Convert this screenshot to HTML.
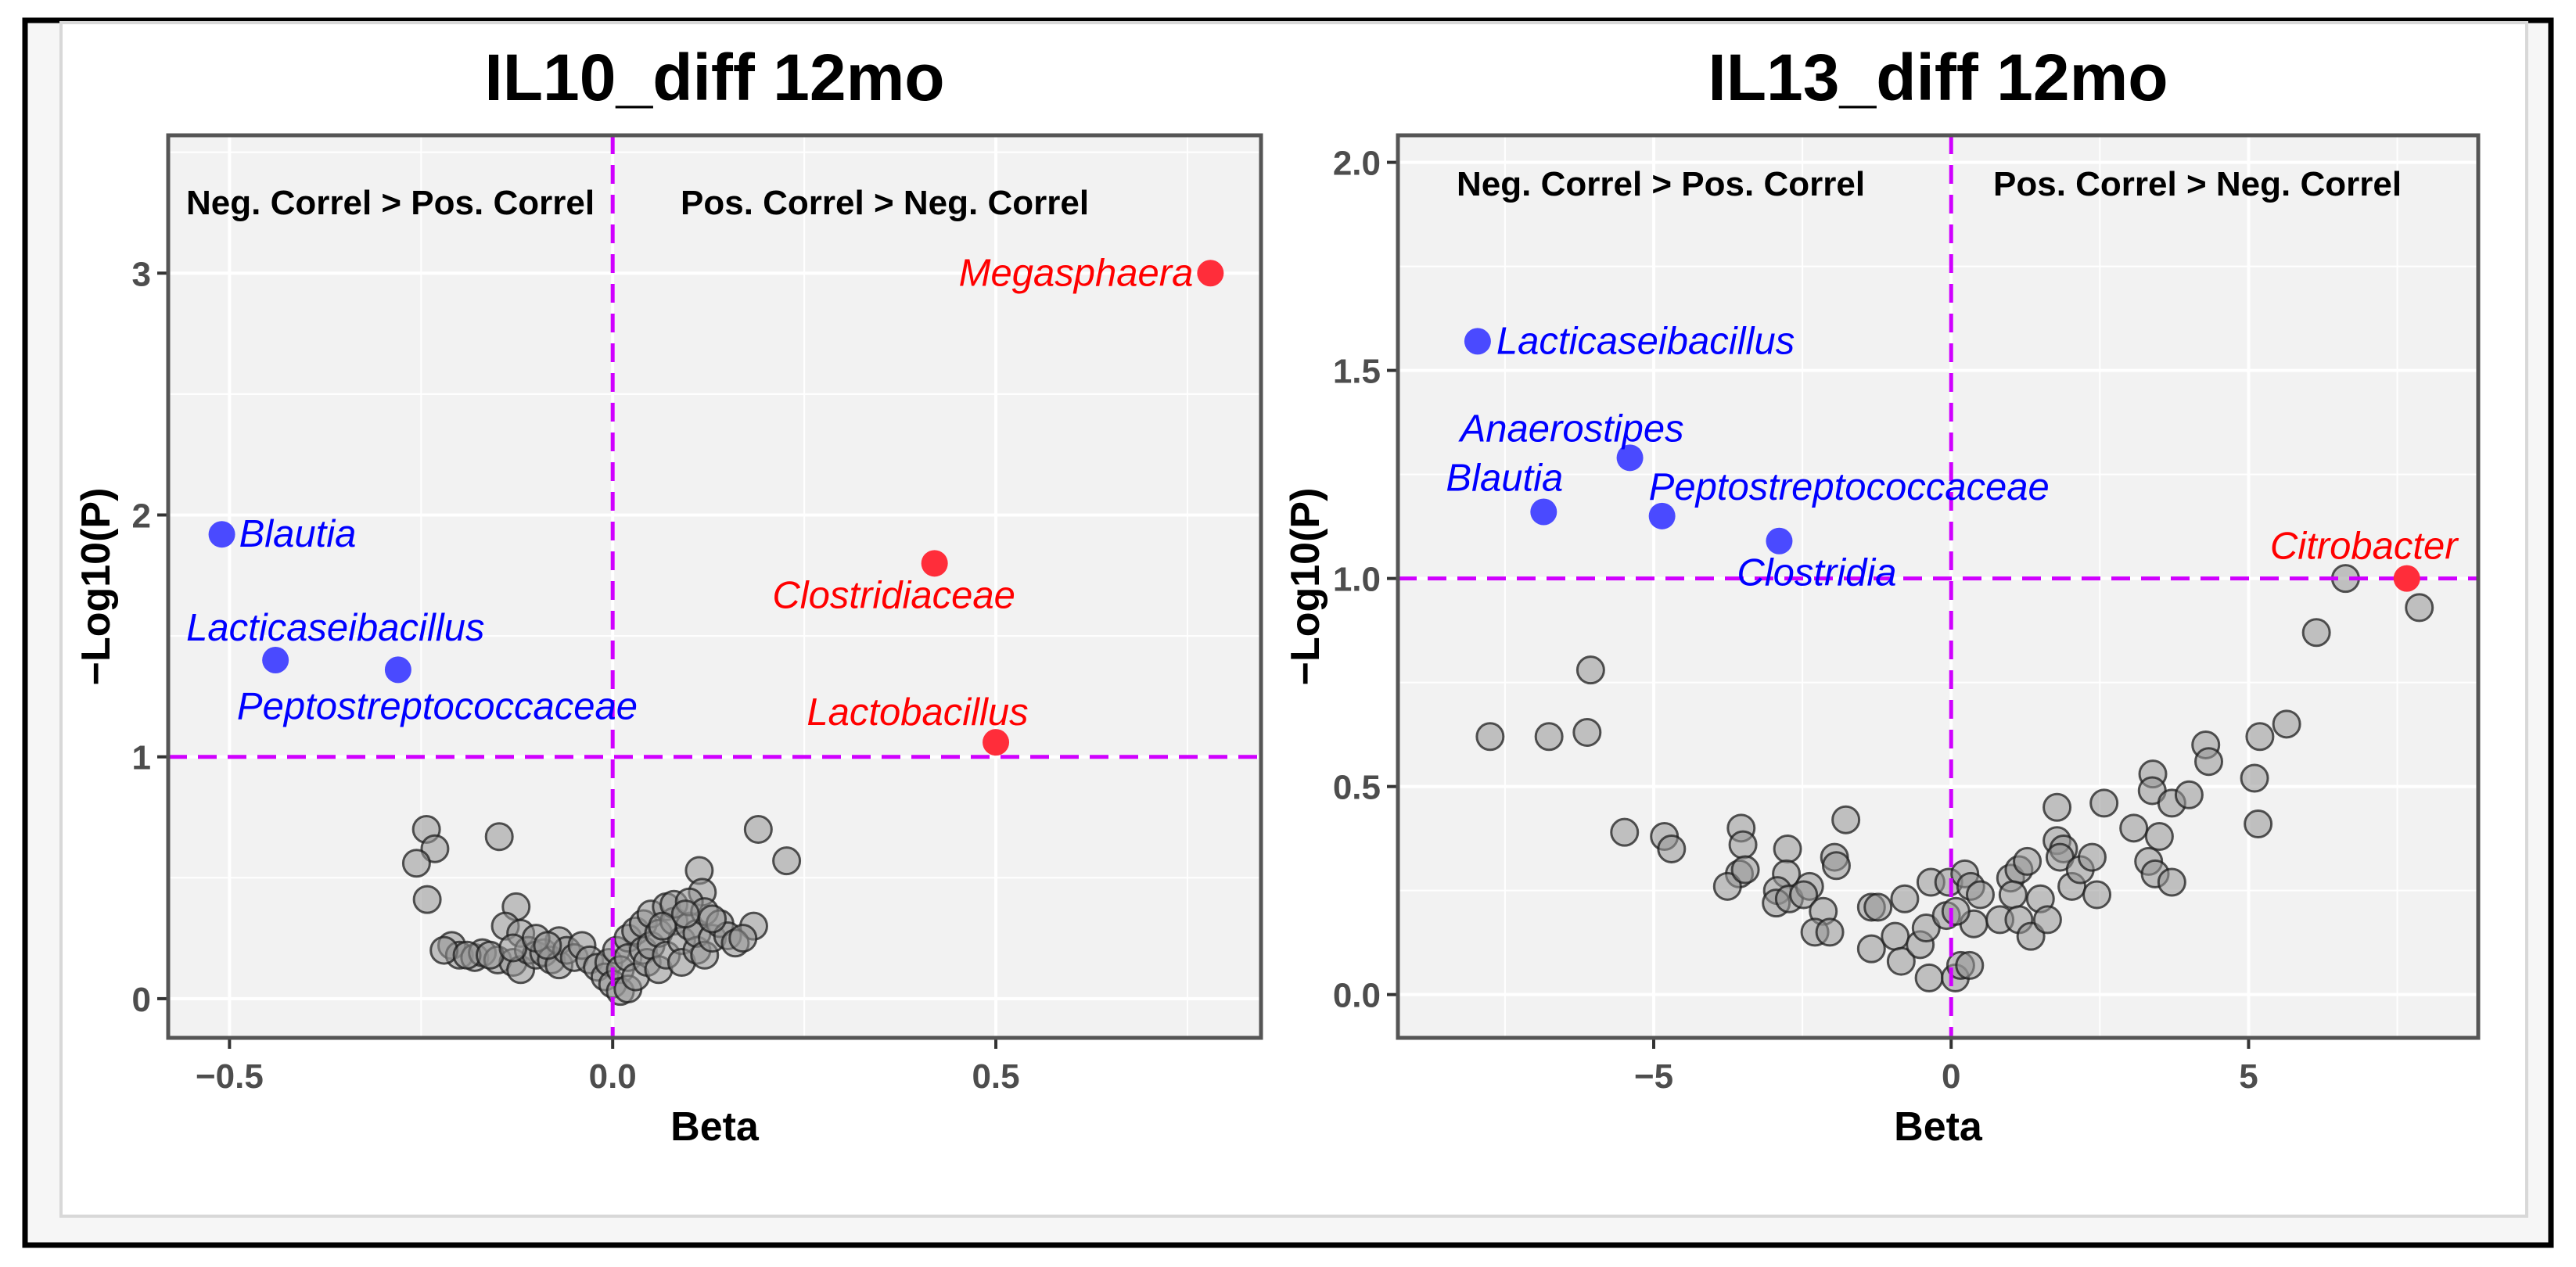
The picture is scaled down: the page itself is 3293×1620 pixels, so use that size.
<!DOCTYPE html>
<html><head><meta charset="utf-8">
<style>
html,body{margin:0;padding:0;background:#fff;}
svg{display:block;font-family:"Liberation Sans",Arial,sans-serif;}
</style></head>
<body>
<svg id="fig" width="3293" height="1620" viewBox="0 0 3293 1620" xmlns="http://www.w3.org/2000/svg">
<rect x="0" y="0" width="3293" height="1620" fill="#fff"/>
<rect x="32" y="26" width="3229" height="1566" fill="#f6f6f6" stroke="#000" stroke-width="7"/>
<rect x="78" y="29" width="3152" height="1526" fill="#fff" stroke="#d8d8d8" stroke-width="4"/>
<g id="p1"></g>
<g id="p2"></g>
</svg>
<script>
// ---- IL10 data ----
const il10GrayBeta = [-0.243,-0.232,-0.256,-0.242,-0.148,-0.126,0.19,0.227,0.113,0.117,0.184,
-0.21,-0.2,-0.18,-0.17,-0.15,-0.14,-0.13,-0.12,-0.12,-0.11,-0.10,-0.09,-0.08,-0.07,-0.07,-0.06,-0.05,-0.04,-0.03,-0.02,-0.01,-0.005,0.0,0.005,0.01,0.01,0.02,0.02,0.02,0.03,0.03,0.04,0.04,0.045,0.05,0.05,0.06,0.06,0.07,0.07,0.08,0.08,0.09,0.09,0.1,0.1,0.11,0.11,0.12,0.12,0.13,0.14,0.15,0.16,0.17,-0.22,-0.19,-0.16,-0.13,-0.1,-0.085,0.065,0.095,0.13];
const il10GrayP = [0.70,0.62,0.56,0.41,0.67,0.38,0.70,0.57,0.53,0.44,0.30,
0.22,0.18,0.17,0.19,0.16,0.30,0.15,0.12,0.27,0.20,0.18,0.19,0.16,0.14,0.24,0.2,0.17,0.22,0.16,0.13,0.09,0.15,0.06,0.2,0.12,0.03,0.04,0.25,0.17,0.28,0.09,0.2,0.31,0.15,0.35,0.22,0.27,0.12,0.38,0.18,0.32,0.39,0.24,0.15,0.3,0.4,0.2,0.27,0.36,0.18,0.25,0.31,0.26,0.23,0.25,0.2,0.18,0.18,0.21,0.25,0.22,0.3,0.35,0.33];
const il10SigNames = ["Megasphaera","Blautia","Lacticaseibacillus","Peptostreptococcaceae","Clostridiaceae","Lactobacillus"];
const il10SigBeta = [0.78,-0.51,-0.44,-0.28,0.42,0.50];
const il10SigP = [3.0,1.92,1.40,1.36,1.80,1.06];
const il10SigDir = ["pos","neg","neg","neg","pos","pos"];
const il10XTicks = [-0.5,0.0,0.5];
const il10XTickLabels = ["\u22120.5","0.0","0.5"];
const il10YTicks = [0,1,2,3];
const il10YTickLabels = ["0","1","2","3"];
// ---- IL13 data ----
const il13GrayBeta = [-7.75,-6.76,-6.06,-6.12,-5.49,-4.82,-4.7,-3.53,-3.5,-3.56,-3.76,-3.46,-2.75,-2.77,-2.92,-2.94,-2.72,-2.38,-2.48,-1.77,-1.96,-1.93,-2.15,-2.29,-2.04,-1.34,-1.23,-1.34,-0.78,-0.94,-0.84,-0.52,-0.42,-0.34,-0.37,-0.08,-0.04,0.07,0.16,0.31,0.23,0.33,0.38,0.49,0.08,0.82,1.0,1.14,1.28,1.04,1.14,1.34,1.5,1.62,1.78,1.78,1.89,1.83,2.03,2.17,2.37,2.45,2.57,3.07,3.39,3.38,3.5,3.32,3.43,3.71,3.71,4.0,4.28,4.33,5.1,5.19,5.16,5.64,6.14,6.63,7.87];
const il13GrayP = [0.62,0.62,0.78,0.63,0.39,0.38,0.35,0.40,0.36,0.29,0.26,0.30,0.35,0.29,0.25,0.22,0.23,0.26,0.24,0.42,0.33,0.31,0.20,0.15,0.15,0.21,0.21,0.11,0.23,0.14,0.08,0.12,0.16,0.27,0.04,0.19,0.27,0.04,0.07,0.07,0.29,0.26,0.17,0.24,0.2,0.18,0.28,0.30,0.32,0.24,0.18,0.14,0.23,0.18,0.45,0.37,0.35,0.33,0.26,0.30,0.33,0.24,0.46,0.40,0.53,0.49,0.38,0.32,0.29,0.27,0.46,0.48,0.60,0.56,0.52,0.62,0.41,0.65,0.87,1.0,0.93];
const il13SigNames = ["Lacticaseibacillus","Anaerostipes","Blautia","Peptostreptococcaceae","Clostridia","Citrobacter"];
const il13SigBeta = [-7.96,-5.4,-6.85,-4.86,-2.89,7.66];
const il13SigP = [1.57,1.29,1.16,1.15,1.09,1.0];
const il13SigDir = ["neg","neg","neg","neg","neg","pos"];
const il13XTicks = [-5,0,5];
const il13XTickLabels = ["\u22125","0","5"];
const il13YTicks = [0,0.5,1,1.5,2];
const il13YTickLabels = ["0.0","0.5","1.0","1.5","2.0"];

const NS="http://www.w3.org/2000/svg";
function mk(parent,tag,attrs,text){const e=document.createElementNS(NS,tag);for(const k in attrs)e.setAttribute(k,attrs[k]);if(text!==undefined)e.textContent=text;parent.appendChild(e);return e;}

function drawPanel(g,cfg){
  const L=cfg.left,R=cfg.right,T=173,B=1327;
  const sx=v=>L+(v-cfg.xmin)/(cfg.xmax-cfg.xmin)*(R-L);
  const sy=v=>B-(v-cfg.ymin)/(cfg.ymax-cfg.ymin)*(B-T);
  const bg=mk(g,'rect',{x:L,y:T,width:R-L,height:B-T,fill:'#f2f2f2'});
  
  
  cfg.xMinor.forEach(v=>{const l=mk(g,'line',{x1:sx(v),x2:sx(v),y1:T,y2:B,stroke:'#fff','stroke-width':2});});
  cfg.yMinor.forEach(v=>{const l=mk(g,'line',{x1:L,x2:R,y1:sy(v),y2:sy(v),stroke:'#fff','stroke-width':2});});
  cfg.xTicks.forEach((v,i)=>{
    const l=mk(g,'line',{x1:sx(v),x2:sx(v),y1:T,y2:B,stroke:'#fff','stroke-width':4});
    
    
    const t=mk(g,'line',{x1:sx(v),x2:sx(v),y1:B,y2:B+14,stroke:'#333','stroke-width':4});
    
    
    const tx=mk(g,'text',{x:sx(v),y:B+64,'text-anchor':'middle','font-size':44,'font-weight':'bold',fill:'#4d4d4d'},cfg.xTickLabels[i]);
    
    
  });
  cfg.yTicks.forEach((v,i)=>{
    const l=mk(g,'line',{x1:L,x2:R,y1:sy(v),y2:sy(v),stroke:'#fff','stroke-width':4});
    
    
    const t=mk(g,'line',{x1:L-14,x2:L,y1:sy(v),y2:sy(v),stroke:'#333','stroke-width':4});
    
    
    const tx=mk(g,'text',{x:L-22,y:sy(v)+16,'text-anchor':'end','font-size':44,'font-weight':'bold',fill:'#4d4d4d'},cfg.yTickLabels[i]);
    
    
  });
  const q1=mk(g,'text',{x:cfg.q1x,y:cfg.qy,'font-size':44,'font-weight':'bold',fill:'#000'},'Neg. Correl > Pos. Correl');
  
  
  const q2=mk(g,'text',{x:cfg.q2x,y:cfg.qy,'font-size':44,'font-weight':'bold',fill:'#000'},'Pos. Correl > Neg. Correl');
  
  
  cfg.grayX.forEach((v,i)=>{
    const c=mk(g,'circle',{cx:sx(v),cy:sy(cfg.grayY[i]),r:17,fill:'rgba(150,150,150,0.55)',stroke:'rgba(30,30,30,0.75)','stroke-width':3});
    
    
  });
  const vl=mk(g,'line',{x1:sx(0),x2:sx(0),y1:T,y2:B,stroke:'#d000ff','stroke-width':5,'stroke-dasharray':'24 14'});
  
  
  const hl=mk(g,'line',{x1:L,x2:R,y1:sy(1),y2:sy(1),stroke:'#d000ff','stroke-width':5,'stroke-dasharray':'24 14'});
  
  
  cfg.sigX.forEach((v,i)=>{
    const col=cfg.sigDir[i]==='pos'?'#ff2d3a':'#4a4aff';
    const tcol=cfg.sigDir[i]==='pos'?'#ff0000':'#0000ff';
    const c=mk(g,'circle',{cx:sx(v),cy:sy(cfg.sigY[i]),r:17,fill:col});
    
    
    const lb=cfg.labels[i];
    const t=mk(g,'text',{x:sx(v)+lb[0],y:sy(cfg.sigY[i])+lb[1],'text-anchor':lb[2],'font-size':49,'font-style':'italic',fill:tcol},cfg.sigNames[i]);
    
    
  });
  const fr=mk(g,'rect',{x:L,y:T,width:R-L,height:B-T,fill:'none',stroke:'#555','stroke-width':5});
  
  
  const title=mk(g,'text',{x:(L+R)/2,y:128,'text-anchor':'middle','font-size':84,'font-weight':'bold',fill:'#000'},cfg.title);
  
  
  const xt=mk(g,'text',{x:(L+R)/2,y:1458,'text-anchor':'middle','font-size':52,'font-weight':'bold',fill:'#000'},'Beta');
  
  
  const yt=mk(g,'text',{x:0,y:0,'text-anchor':'middle','font-size':52,'font-weight':'bold',fill:'#000',transform:`translate(${cfg.ytx},${(T+B)/2}) rotate(-90)`},'\u2212Log10(P)');
  
  
}

drawPanel(document.getElementById('p1'),{
  left:215,right:1612,xmin:-0.58,xmax:0.846,ymin:-0.162,ymax:3.57,
  xTicks:il10XTicks,xTickLabels:il10XTickLabels,yTicks:il10YTicks,yTickLabels:il10YTickLabels,
  xMinor:[-0.25,0.25,0.75],yMinor:[0.5,1.5,2.5,3.5],
  q1x:238,q2x:870,qy:274,
  grayX:il10GrayBeta,grayY:il10GrayP,
  sigNames:il10SigNames,sigX:il10SigBeta,sigY:il10SigP,sigDir:il10SigDir,
  labels:[[-22,16,'end'],[22,16,'start'],[-114,-25,'start'],[-206,63,'start'],[-52,57,'middle'],[-100,-22,'middle']],
  title:'IL10_diff 12mo',ytx:140
});
drawPanel(document.getElementById('p2'),{
  left:1787,right:3168,xmin:-9.3,xmax:8.86,ymin:-0.104,ymax:2.065,
  xTicks:il13XTicks,xTickLabels:il13XTickLabels,yTicks:il13YTicks,yTickLabels:il13YTickLabels,
  xMinor:[-7.5,-2.5,2.5,7.5],yMinor:[0.25,0.75,1.25,1.75],
  q1x:1862,q2x:2548,qy:250,
  grayX:il13GrayBeta,grayY:il13GrayP,
  sigNames:il13SigNames,sigX:il13SigBeta,sigY:il13SigP,sigDir:il13SigDir,
  labels:[[24,16,'start'],[-74,-21,'middle'],[-50,-27,'middle'],[-17,-21,'start'],[48,57,'middle'],[-55,-25,'middle']],
  title:'IL13_diff 12mo',ytx:1686
});
</script>
</body></html>
